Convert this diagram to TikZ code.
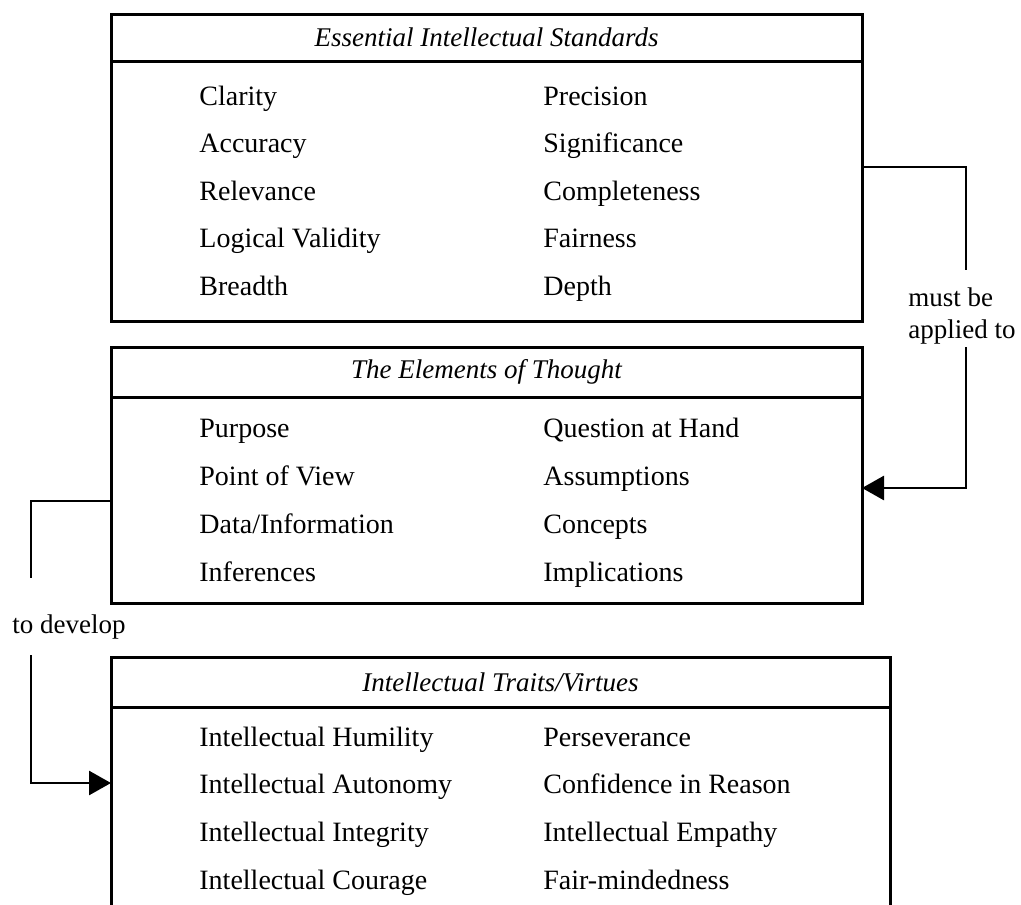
\documentclass[tikz,border=0pt]{standalone}
\usepackage{fontspec}
\setmainfont{Liberation Serif}
\usetikzlibrary{arrows.meta,positioning}
\tikzstyle{headbox} = [rectangle,draw=black,line width=3pt,inner sep=0pt,outer sep=0pt,font=\fontsize{27}{32}\selectfont\itshape]
\tikzstyle{bodybox} = [rectangle,draw=black,line width=3pt,inner sep=0pt,outer sep=0pt]
\tikzstyle{item} = [anchor=base west,inner sep=0pt,font=\fontsize{28}{32}\selectfont]
\tikzstyle{note} = [align=left,anchor=west,inner sep=0pt,font=\fontsize{27}{32}\selectfont]

\begin{document}
\begin{tikzpicture}[x=1pt,y=-1pt,>={Triangle[length=22pt,width=24pt]},line width=2.8pt]
\useasboundingbox (0,0) rectangle (1021,905);

% the three panels
\node (std) [headbox,minimum width=751pt,minimum height=47pt] at (486.5,37.5) {Essential Intellectual Standards};
\node (stdlist) [bodybox,minimum width=751pt,minimum height=260pt,below=0pt of std] {};
\node (elm) [headbox,minimum width=751pt,minimum height=50pt] at (486.5,372) {The Elements of Thought};
\node (elmlist) [bodybox,minimum width=751pt,minimum height=206pt,below=0pt of elm] {};
\node (trt) [headbox,minimum width=779pt,minimum height=50pt] at (500.5,682) {Intellectual Traits/Virtues};
\node (trtlist) [bodybox,minimum width=779pt,minimum height=243pt,below=0pt of trt] {};

% entries
\foreach \txt [count=\i] in {Clarity,Accuracy,Relevance,Logical Validity,Breadth}
	\node (stdl\i) [item] at (198,{105+47.5*(\i-1)}) {\txt};
\foreach \txt [count=\i] in {Precision,Significance,Completeness,Fairness,Depth}
	\node (stdr\i) [item] at (542,{105+47.5*(\i-1)}) {\txt};
\foreach \txt [count=\i] in {Purpose,Point of View,Data/Information,Inferences}
	\node (elml\i) [item] at (198,{437+48.3*(\i-1)}) {\txt};
\foreach \txt [count=\i] in {Question at Hand,Assumptions,Concepts,Implications}
	\node (elmr\i) [item] at (542,{437+48.3*(\i-1)}) {\txt};
\foreach \txt [count=\i] in {Intellectual Humility,Intellectual Autonomy,Intellectual Integrity,Intellectual Courage}
	\node (trtl\i) [item] at (198,{746+47.7*(\i-1)}) {\txt};
\foreach \txt [count=\i] in {Perseverance,Confidence in Reason,Intellectual Empathy,Fair-mindedness}
	\node (trtr\i) [item] at (542,{746+47.7*(\i-1)}) {\txt};

% connectors
\coordinate (rgtA) at (966,270);
\coordinate (rgtB) at (966,347);
\coordinate (lftA) at (31,578);
\coordinate (lftB) at (31,655);
\node (applied) [note] at (907,316) {must be\\applied to};
\node (develop) [note] at (11,627) {to develop};

\draw (stdlist.east |- 0,167) -| (rgtA);
\draw[->] (rgtB) |- (elmlist.east |- 0,488);
\draw (elmlist.west |- 0,501) -| (lftA);
\draw[->] (lftB) |- (trtlist.west |- 0,783);

\end{tikzpicture}
\end{document}
